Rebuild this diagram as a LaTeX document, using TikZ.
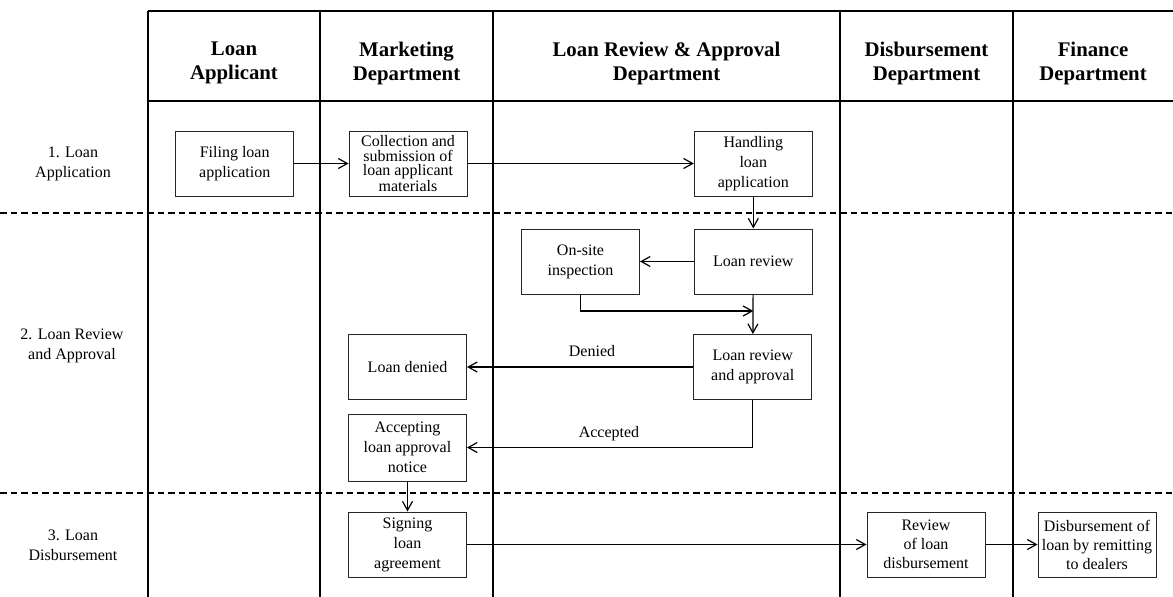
\documentclass[tikz,border=0pt]{standalone}
\usepackage{fontspec}
\setmainfont{Liberation Serif}
\usetikzlibrary{arrows.meta}
\begin{document}
\begin{tikzpicture}[x=1pt,y=-1pt,
  grid/.style={line width=1.4pt,black},
  sep/.style={line width=1.1pt,black,dash pattern=on 6.5pt off 4pt},
  box/.style={draw=black!85,line width=1pt,rectangle,minimum width=118pt,minimum height=65pt,inner sep=0pt,align=center,font=\fontsize{16}{20}\selectfont},
  head/.style={align=center,font=\fontsize{20.8}{24}\selectfont\bfseries},
  rowlab/.style={align=center,font=\fontsize{16}{20}\selectfont},
  lab/.style={font=\fontsize{16}{20}\selectfont},
  flow/.style={line width=1.2pt,-{Straight Barb[length=9pt,width=10pt,line width=1.2pt]}}
]
\useasboundingbox (0,0) rectangle (1173,597);
% table grid
\draw[grid] (148,11) -- (1173,11);
\draw[grid] (148,101) -- (1173,101);
\foreach \xx in {148,320,493,840,1013} {\draw[grid] (\xx,11) -- (\xx,597);}
\draw[sep] (0,213) -- (1173,213);
\draw[sep] (0,493) -- (1173,493);
% headers
\node[head] (h1) at (234,63) {Loan\\Applicant};
\node[head] (h2) at (406.5,63) {Marketing\\Department};
\node[head] (h3) at (666.5,63) {Loan Review \& Approval\\Department};
\node[head] (h4) at (926.5,63) {Disbursement\\Department};
\node[head] (h5) at (1093,63) {Finance\\Department};
% row labels
\node[rowlab] (r1) at (73,164) {1. Loan\\Application};
\node[rowlab] (r2) at (72,346) {2. Loan Review\\and Approval};
\node[rowlab] (r3) at (73,545) {3. Loan\\Disbursement};
% boxes
\node[box] (filing) at (234.7,163.5) {Filing loan\\application};
\node[box,font=\fontsize{16}{14.5}\selectfont] (collect) at (408,163.5) {Collection and\\submission of\\loan applicant\\materials};
\node[box] (handle) at (753.3,163.5) {Handling\\loan\\application};
\node[box] (onsite) at (580.5,261.5) {On-site\\inspection};
\node[box] (review) at (753.3,261.5) {Loan review};
\node[box] (approve) at (752.7,367) {Loan review\\and approval};
\node[box] (denied) at (407.5,367) {Loan denied};
\node[box,minimum height=67pt] (accept) at (407.5,447.5) {Accepting\\loan approval\\notice};
\node[box] (signing) at (407.5,544.5) {Signing\\loan\\agreement};
\node[box,font=\fontsize{16}{19}\selectfont] (revdisb) at (926,544.5) {Review\\of loan\\disbursement};
\node[box,font=\fontsize{16}{19}\selectfont] (disb) at (1097,544.5) {Disbursement of\\loan by remitting\\to dealers};
% connectors
\coordinate (join) at (753.3,311);
\draw[flow] (filing) -- (collect);
\draw[flow] (collect) -- (handle);
\draw[flow] (handle) -- (review);
\draw[flow] (review) -- (onsite);
\draw[flow] (onsite.south) |- (join);
\draw[flow] (review) -- (approve);
\draw[flow] (approve) -- (denied);
\draw[flow] (approve.south) |- (accept.east);
\draw[flow] (accept) -- (signing);
\draw[flow] (signing) -- (revdisb);
\draw[flow] (revdisb) -- (disb);
% labels
\node[lab] (ldenied) at (592,351) {Denied};
\node[lab] (laccepted) at (609,434) {Accepted};
\end{tikzpicture}
\end{document}
